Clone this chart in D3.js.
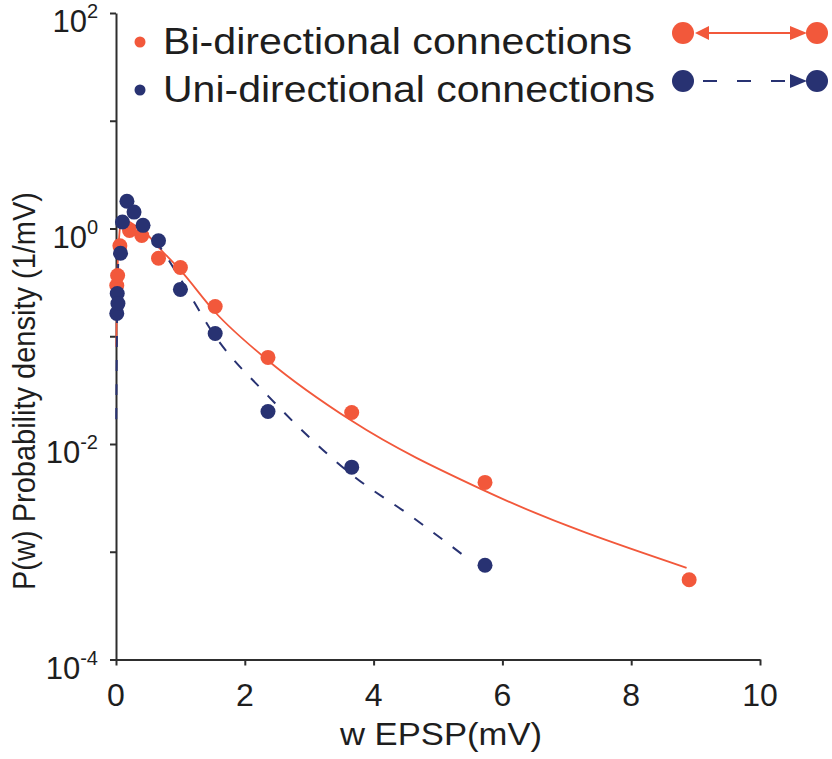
<!DOCTYPE html>
<html>
<head>
<meta charset="utf-8">
<script src="https://cdn.jsdelivr.net/npm/d3@7"></script>
<style>
  body { margin: 0; background: #ffffff; }
  svg text { font-family: "Liberation Sans", Arial, sans-serif; fill: #1e1e1e; }
</style>
</head>
<body>
<div id="chart"></div>
<script>
// measured points (w EPSP in mV, density in 1/mV)
var biX = [0.012, 0.025, 0.06, 0.21, 0.40, 0.66, 1.0, 1.54, 2.36, 3.66, 5.73, 8.9];
var biY = [0.296, 0.366, 0.69, 0.96, 0.86, 0.53, 0.435, 0.189, 0.0636, 0.0196, 0.0044, 0.00055];

var uniX = [0.012, 0.019, 0.03, 0.07, 0.10, 0.17, 0.28, 0.42, 0.66, 1.0, 1.54, 2.36, 3.66, 5.73];
var uniY = [0.163, 0.249, 0.201, 0.59, 1.15, 1.79, 1.42, 1.07, 0.77, 0.272, 0.106, 0.020, 0.0061, 0.00075];

// fitted curves
var biFitX = [0.004, 0.02, 0.05, 0.08, 0.12, 0.2, 0.3, 0.42, 0.66, 1.0, 1.54, 2.36, 3.66, 5.73, 8.86];
var biFitY = [0.08, 0.35, 0.85, 1.15, 1.22, 1.16, 1.06, 0.96, 0.67, 0.41, 0.167, 0.0596, 0.0164, 0.00367, 0.00071];

var uniFitX = [0.004, 0.02, 0.05, 0.08, 0.12, 0.2, 0.3, 0.42, 0.66, 1.0, 1.54, 2.36, 3.66, 4.6, 5.5];
var uniFitY = [0.017, 0.2, 0.75, 1.1, 1.22, 1.2, 1.12, 1.0, 0.7, 0.34, 0.1, 0.028, 0.0052, 0.0021, 0.00083];

var xTicks = [0, 2, 4, 6, 8, 10];
var yTicks = [1e2, 1e1, 1e0, 1e-1, 1e-2, 1e-3, 1e-4];
var yLabelExp = [2, 0, -2, -4];

var legendNames = ["Bi-directional connections", "Uni-directional connections"];

var red = "#f2583b";
var blue = "#283272";
var axisColor = "#2e2e2e";

var width = 832, height = 759;

var svg = d3.select("#chart").append("svg")
    .attr("width", width)
    .attr("height", height);

var x = d3.scaleLinear().domain([0, 10]).range([116, 760]);
var y = d3.scaleLog().domain([1e-4, 1e2]).range([659.5, 13]);

// axes
var xAxis = svg.append("g")
    .attr("transform", "translate(0," + y(1e-4) + ")")
    .call(d3.axisBottom(x).tickValues(xTicks).tickSize(6).tickSizeOuter(0).tickFormat(""));
var yAxis = svg.append("g")
    .attr("transform", "translate(" + x(0) + ",0)")
    .call(d3.axisLeft(y).tickValues(yTicks).tickSize(6).tickSizeOuter(0).tickFormat(""));

[xAxis, yAxis].forEach(function(g){
  g.selectAll("path, line").attr("stroke", axisColor).attr("stroke-width", 2);
});

// x tick labels
svg.selectAll(".xlab")
    .data(xTicks)
  .enter().append("text")
    .attr("class", "xlab")
    .attr("x", function(d){ return x(d); })
    .attr("y", 706)
    .attr("text-anchor", "middle")
    .style("font-size", "32px")
    .text(function(d){ return d; });

// y tick labels 10^n
var ylab = svg.selectAll(".ylab")
    .data(yLabelExp)
  .enter().append("text")
    .attr("class", "ylab")
    .attr("x", 98)
    .attr("y", function(d){ return y(Math.pow(10, d)) + 19; })
    .attr("text-anchor", "end")
    .style("font-size", "31px");
ylab.append("tspan").text("10");
ylab.append("tspan")
    .attr("dy", -14)
    .style("font-size", "20px")
    .text(function(d){ return d; });

// axis titles
svg.append("text")
    .attr("x", 441)
    .attr("y", 745)
    .attr("text-anchor", "middle")
    .attr("textLength", 202)
    .attr("lengthAdjust", "spacingAndGlyphs")
    .style("font-size", "32px")
    .text("w EPSP(mV)");

svg.append("text")
    .attr("transform", "translate(35,391) rotate(-90)")
    .attr("text-anchor", "middle")
    .attr("textLength", 398)
    .attr("lengthAdjust", "spacingAndGlyphs")
    .style("font-size", "31px")
    .text("P(w) Probability density (1/mV)");

// fitted curves
var line = d3.line()
    .x(function(d){ return x(d[0]); })
    .y(function(d){ return y(d[1]); })
    .curve(d3.curveMonotoneX);

svg.append("path")
    .datum(d3.zip(biFitX, biFitY))
    .attr("d", line)
    .attr("fill", "none")
    .attr("stroke", red)
    .attr("stroke-width", 1.8);

svg.append("path")
    .datum(d3.zip(uniFitX, uniFitY))
    .attr("d", line)
    .attr("fill", "none")
    .attr("stroke", blue)
    .attr("stroke-width", 2)
    .attr("stroke-dasharray", "11,13");

// data points
svg.selectAll(".bi")
    .data(d3.zip(biX, biY))
  .enter().append("circle")
    .attr("class", "bi")
    .attr("cx", function(d){ return x(d[0]); })
    .attr("cy", function(d){ return y(d[1]); })
    .attr("r", 7.5)
    .attr("fill", red);

svg.selectAll(".uni")
    .data(d3.zip(uniX, uniY))
  .enter().append("circle")
    .attr("class", "uni")
    .attr("cx", function(d){ return x(d[0]); })
    .attr("cy", function(d){ return y(d[1]); })
    .attr("r", 7.5)
    .attr("fill", blue);

// legend
var legendColors = [red, blue];
var legendLen = [469, 492];
var legend = svg.selectAll(".leg")
    .data(legendNames)
  .enter().append("g")
    .attr("class", "leg")
    .attr("transform", function(d, i){ return "translate(0," + (42 + i * 48) + ")"; });

legend.append("circle")
    .attr("cx", 140)
    .attr("cy", 0)
    .attr("r", 5.5)
    .attr("fill", function(d, i){ return legendColors[i]; });

legend.append("text")
    .attr("x", 163)
    .attr("y", 12)
    .attr("textLength", function(d, i){ return legendLen[i]; })
    .attr("lengthAdjust", "spacingAndGlyphs")
    .style("font-size", "36px")
    .text(function(d){ return d; });

// little connection icons on the right
var icon = legend.append("g");
icon.append("circle").attr("cx", 683).attr("cy", -9).attr("r", 11)
    .attr("fill", function(d, i){ return legendColors[i]; });
icon.append("circle").attr("cx", 817).attr("cy", -9).attr("r", 11)
    .attr("fill", function(d, i){ return legendColors[i]; });
icon.append("line")
    .attr("x1", function(d, i){ return i == 0 ? 706 : 703; })
    .attr("x2", 792)
    .attr("y1", -9).attr("y2", -9)
    .attr("stroke", function(d, i){ return legendColors[i]; })
    .attr("stroke-width", function(d, i){ return i == 0 ? 1.8 : 2; })
    .attr("stroke-dasharray", function(d, i){ return i == 0 ? null : "14,20"; });
icon.append("path")
    .attr("d", "M790,-16 L807,-9 L790,-2 Z")
    .attr("fill", function(d, i){ return legendColors[i]; });
icon.filter(function(d, i){ return i == 0; }).append("path")
    .attr("d", "M709,-16 L695,-9 L709,-2 Z")
    .attr("fill", red);
</script>
</body>
</html>
